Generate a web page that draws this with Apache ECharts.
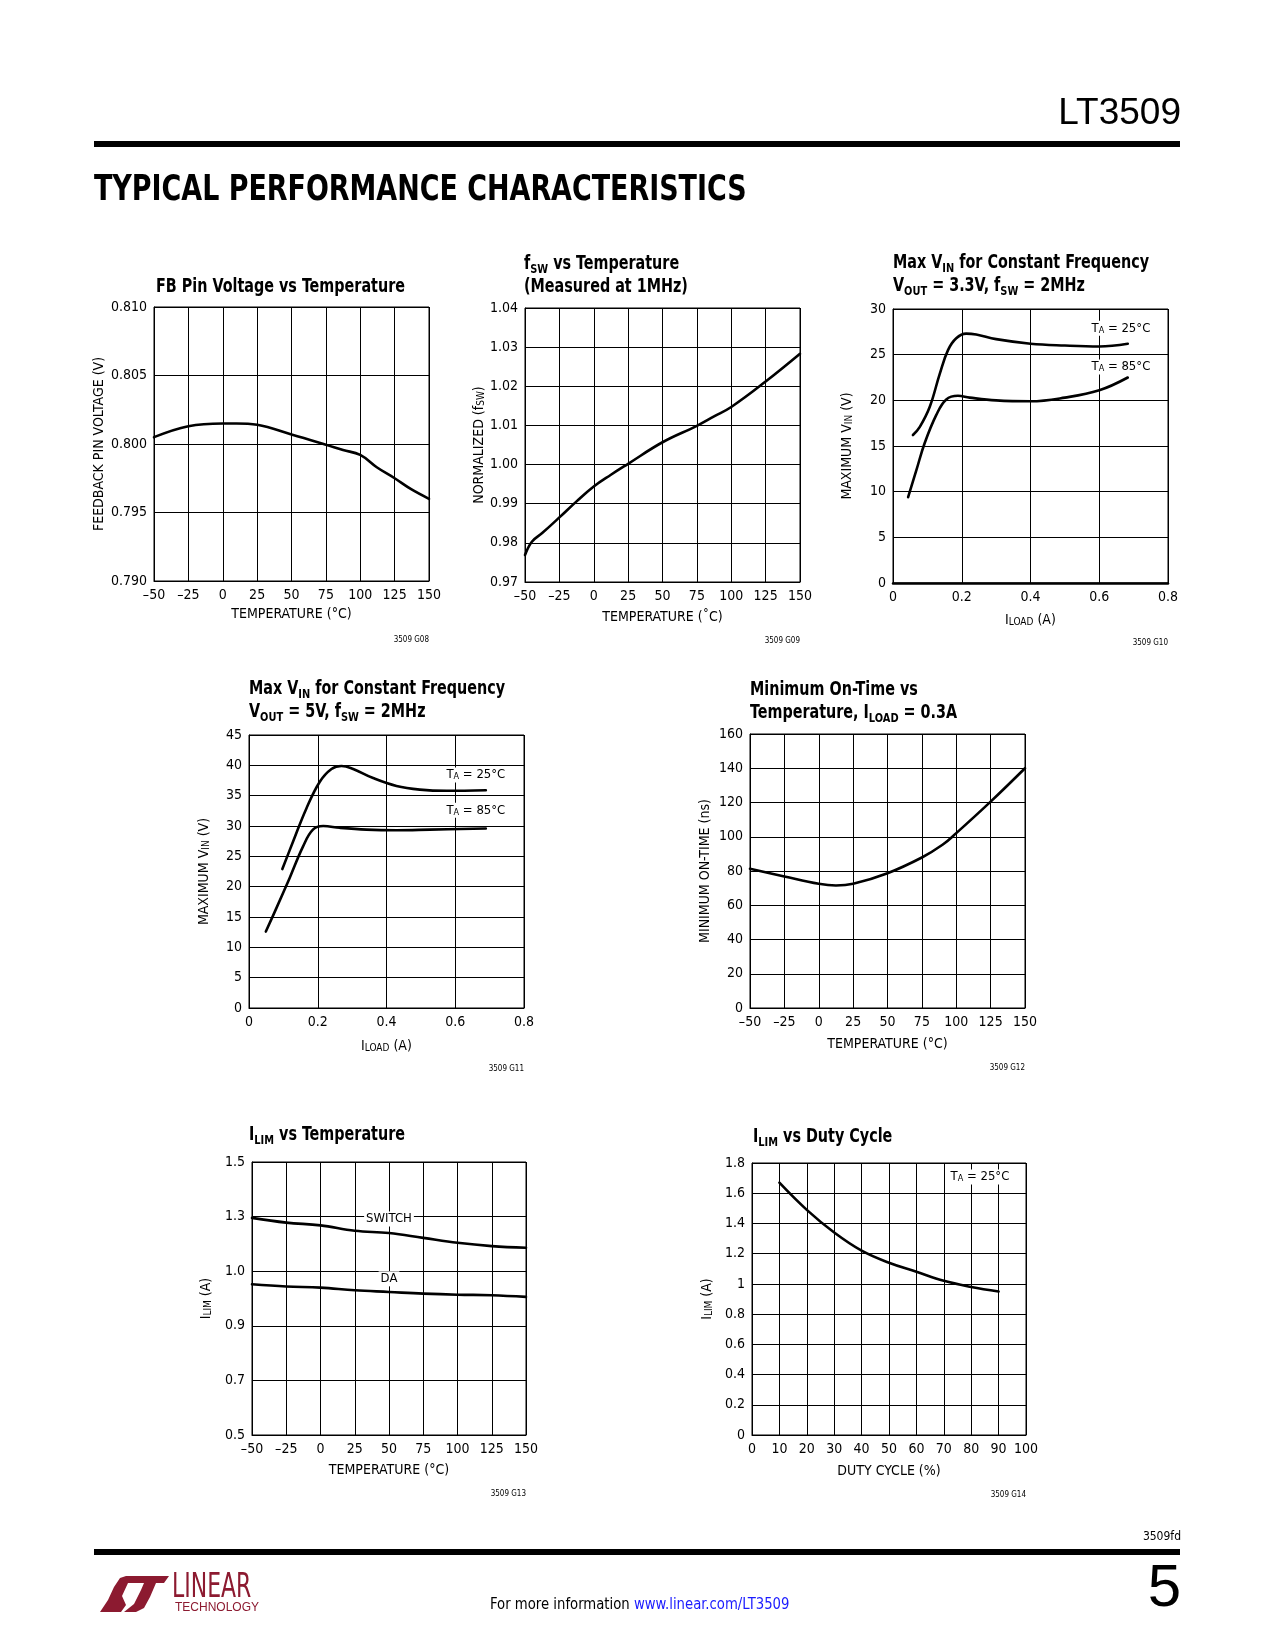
<!DOCTYPE html>
<html>
<head>
<meta charset="utf-8">
<script src="https://cdn.jsdelivr.net/npm/echarts@6/dist/echarts.min.js"></script>
<style>
html,body{margin:0;padding:0;background:#fff;}
#c{width:1275px;height:1650px;}
</style>
</head>
<body>
<div id="c"></div>
<script>
// ---------------- DATA ----------------
// G08 FB pin voltage vs temperature
const fbTemp = [-50, -25, 0, 10, 25, 50, 75, 87.5, 100, 112, 125, 137, 150];
const fbVolt = [0.8005, 0.8013, 0.8015, 0.8015, 0.8014, 0.8007, 0.79995, 0.79956, 0.7992, 0.7983, 0.7975, 0.7967, 0.7960];
// G09 fsw vs temperature
const fswTemp = [-50, -45, -37.5, -25, -12.5, 0, 12.5, 25, 50, 75, 87.5, 100, 125, 150];
const fswNorm = [0.9769, 0.9803, 0.9825, 0.9865, 0.9906, 0.9944, 0.9974, 1.0002, 1.0057, 1.0099, 1.0123, 1.0147, 1.0212, 1.0283];
// G10 Max VIN, VOUT = 3.3V
const v33Load25 = [0.058, 0.078, 0.107, 0.136, 0.16, 0.184, 0.213, 0.242, 0.3, 0.4, 0.5, 0.6, 0.683];
const v33Vin25  = [16.2, 17.1, 19.3, 22.9, 25.5, 26.8, 27.3, 27.2, 26.7, 26.2, 26.0, 25.9, 26.2];
const v33Load85 = [0.044, 0.068, 0.092, 0.126, 0.155, 0.189, 0.223, 0.3, 0.4, 0.5, 0.6, 0.683];
const v33Vin85  = [9.4, 12.35, 15.3, 18.4, 20.1, 20.5, 20.3, 20.0, 19.9, 20.3, 21.1, 22.5];
// G11 Max VIN, VOUT = 5V
const v5Load25 = [0.097, 0.128, 0.167, 0.206, 0.24, 0.269, 0.303, 0.361, 0.429, 0.497, 0.575, 0.689];
const v5Vin25  = [22.9, 27.4, 32.9, 37.3, 39.4, 39.9, 39.4, 37.9, 36.6, 36.0, 35.8, 35.9];
const v5Load85 = [0.049, 0.08, 0.118, 0.157, 0.186, 0.216, 0.264, 0.342, 0.429, 0.526, 0.689];
const v5Vin85  = [12.6, 16.5, 21.4, 26.6, 29.4, 30.0, 29.7, 29.4, 29.3, 29.4, 29.6];
// G12 minimum on-time vs temperature
const tonTemp = [-50, -25, 0, 12.5, 25, 50, 75, 90, 100, 125, 150];
const tonNs   = [81.3, 76.8, 72.5, 71.5, 72.5, 78.7, 87.9, 95.3, 102.1, 120.5, 140.0];
// G13 ILIM vs temperature (axis tick labels as printed, evenly spaced)
const ilimTicks = [0.5, 0.7, 0.9, 1.0, 1.3, 1.5];
const ilimTickLabels = ['0.5', '0.7', '0.9', '1.0', '1.3', '1.5'];
const ilimTemp   = [-50, -25, 0, 25, 50, 75, 100, 125, 150];
const ilimSwitch = [1.293, 1.267, 1.252, 1.222, 1.21, 1.183, 1.156, 1.138, 1.129];
const ilimDA     = [0.976, 0.972, 0.970, 0.965, 0.962, 0.959, 0.957, 0.956, 0.953];
// G14 ILIM vs duty cycle
const dutyPct  = [10, 20, 30, 40, 50, 60, 70, 80, 90];
const dutyIlim = [1.67, 1.49, 1.34, 1.22, 1.14, 1.08, 1.02, 0.98, 0.95];

// ---------------- STYLE ----------------
const FONT = '"Liberation Sans Narrow","DejaVu Sans Condensed","Arial Narrow",sans-serif';
const FONT_REG = '"Liberation Sans","DejaVu Sans",sans-serif';
const subRich = { sub: { fontSize: 10, fontFamily: FONT, color: '#000', verticalAlign: 'bottom', lineHeight: 10 } };
const minus = v => String(v).replace('-', '\u2013');

// map an ILIM value onto the evenly spaced printed ticks
function ilimPos(v) {
  for (let i = 0; i < ilimTicks.length - 1; i++) {
    if (v <= ilimTicks[i + 1]) return i + (v - ilimTicks[i]) / (ilimTicks[i + 1] - ilimTicks[i]);
  }
  return ilimTicks.length - 1;
}

const grids = [
  { left: 154, top: 307, width: 275, height: 274 },
  { left: 525, top: 308, width: 275, height: 274 },
  { left: 893, top: 309, width: 275, height: 274 },
  { left: 249, top: 735, width: 275, height: 273 },
  { left: 750, top: 734, width: 275, height: 274 },
  { left: 252, top: 1162, width: 274, height: 273 },
  { left: 752, top: 1163, width: 274, height: 272 }
].map(g => Object.assign({ show: true, borderColor: '#000', borderWidth: 1, containLabel: false }, g));

function axis(gi, min, max, interval, name, gap, fmt, extra) {
  return Object.assign({
    type: 'value', gridIndex: gi, min, max, interval,
    name, nameLocation: 'middle', nameGap: gap,
    nameTextStyle: { fontSize: 14, fontFamily: FONT, color: '#000', rich: subRich },
    axisLine: { show: true, onZero: false, lineStyle: { color: '#000', width: 1 } },
    axisTick: { show: false },
    splitLine: { show: true, lineStyle: { color: '#000', width: 1 } },
    axisLabel: { fontSize: 14, fontFamily: FONT, color: '#000', margin: 7, formatter: fmt || minus, showMinLabel: true, showMaxLabel: true }
  }, extra || {});
}

const tempName = 'TEMPERATURE (\u00B0C)';
const xAxes = [
  axis(0, -50, 150, 25, tempName, 26),
  axis(1, -50, 150, 25, 'TEMPERATURE (\u02DAC)', 28),
  axis(2, 0, 0.8, 0.2, 'I{sub|LOAD} (A)', 30, null, { axisLine: { show: true, onZero: false, lineStyle: { color: '#000', width: 2.5 } } }),
  axis(3, 0, 0.8, 0.2, 'I{sub|LOAD} (A)', 31),
  axis(4, -50, 150, 25, tempName, 29),
  axis(5, -50, 150, 25, tempName, 28),
  axis(6, 0, 100, 10, 'DUTY CYCLE (%)', 29)
];
const yAxes = [
  axis(0, 0.790, 0.810, 0.005, 'FEEDBACK PIN VOLTAGE (V)', 48, v => v.toFixed(3)),
  axis(1, 0.97, 1.04, 0.01, 'NORMALIZED (f{sub|SW})', 38, v => v.toFixed(2)),
  axis(2, 0, 30, 5, 'MAXIMUM V{sub|IN} (V)', 39),
  axis(3, 0, 45, 5, 'MAXIMUM V{sub|IN} (V)', 38),
  axis(4, 0, 160, 20, 'MINIMUM ON-TIME (ns)', 38),
  axis(5, 0, ilimTicks.length - 1, 1, 'I{sub|LIM} (A)', 39, i => ilimTickLabels[Math.round(i)]),
  axis(6, 0, 1.8, 0.2, 'I{sub|LIM} (A)', 38, v => String(Math.round(v * 10) / 10))
];

function note(x, y, text) {
  return {
    coord: [x, y],
    symbol: 'rect', symbolSize: 1,
    itemStyle: { color: 'rgba(0,0,0,0)' },
    label: {
      show: true, position: 'inside', formatter: text,
      color: '#000', fontSize: 13, fontFamily: FONT,
      backgroundColor: '#fff', padding: [1, 2],
      rich: { sub: { fontSize: 9, fontFamily: FONT, color: '#000', verticalAlign: 'bottom', lineHeight: 9 } }
    }
  };
}

function line(gi, xs, ys, notes, smooth) {
  const s = {
    type: 'line', xAxisIndex: gi, yAxisIndex: gi,
    data: xs.map((x, i) => [x, ys[i]]),
    smooth: smooth === undefined ? 0.4 : smooth,
    showSymbol: false, symbol: 'none',
    lineStyle: { color: '#000', width: 2.6, cap: 'round', join: 'round' },
    animation: false, silent: true
  };
  if (notes) s.markPoint = { symbol: 'rect', symbolSize: 1, animation: false, silent: true, data: notes };
  return s;
}

const series = [
  line(0, fbTemp, fbVolt),
  line(1, fswTemp, fswNorm),
  line(2, v33Load25, v33Vin25, [note(0.663, 27.9, 'T{sub|A} = 25\u00B0C'), note(0.663, 23.65, 'T{sub|A} = 85\u00B0C')]),
  line(2, v33Load85, v33Vin85),
  line(3, v5Load25, v5Vin25, [note(0.66, 38.4, 'T{sub|A} = 25\u00B0C'), note(0.66, 32.6, 'T{sub|A} = 85\u00B0C')]),
  line(3, v5Load85, v5Vin85),
  line(4, tonTemp, tonNs),
  line(5, ilimTemp, ilimSwitch.map(ilimPos), [note(50, ilimPos(1.287), 'SWITCH'), note(50, ilimPos(0.986), 'DA')]),
  line(5, ilimTemp, ilimDA.map(ilimPos)),
  line(6, dutyPct, dutyIlim, [note(83.2, 1.707, 'T{sub|A} = 25\u00B0C')])
];

// chart titles: condensed bold text (scaled horizontally to mimic a condensed face)
function ttl(text, left, top) {
  return {
    type: 'text', x: left, y: top, scaleX: 0.84, scaleY: 1,
    style: {
      text, fill: '#000', font: 'bold 19px ' + FONT, lineHeight: 23,
      textAlign: 'left', textVerticalAlign: 'top',
      rich: { sub: { fontSize: 13, fontWeight: 'bold', fontFamily: FONT, fill: '#000', verticalAlign: 'bottom', lineHeight: 13 } }
    }
  };
}
const titles = [
  ttl('FB Pin Voltage vs Temperature', 156, 276),
  ttl('f{sub|SW} vs Temperature\n(Measured at 1MHz)', 524, 253),
  ttl('Max V{sub|IN} for Constant Frequency\nV{sub|OUT} = 3.3V, f{sub|SW} = 2MHz', 893, 252),
  ttl('Max V{sub|IN} for Constant Frequency\nV{sub|OUT} = 5V, f{sub|SW} = 2MHz', 249, 678),
  ttl('Minimum On-Time vs\nTemperature, I{sub|LOAD} = 0.3A', 750, 679),
  ttl('I{sub|LIM} vs Temperature', 249, 1124),
  ttl('I{sub|LIM} vs Duty Cycle', 753, 1126)
];

function small(text, right, y) {
  return { type: 'text', x: right, y, style: { text, fill: '#000', font: '8px ' + FONT, textAlign: 'right', textVerticalAlign: 'middle' } };
}
const MAROON = '#8c1a30';
const graphics = titles.concat([
  { type: 'text', x: 1181, y: 114, style: { text: 'LT3509', fill: '#000', font: '37px ' + FONT_REG, textAlign: 'right', textVerticalAlign: 'middle' } },
  { type: 'rect', shape: { x: 94, y: 141, width: 1086, height: 6 }, style: { fill: '#000' } },
  { type: 'text', x: 94, y: 191, scaleX: 0.855, scaleY: 1, style: { text: 'TYPICAL PERFORMANCE CHARACTERISTICS', fill: '#000', font: 'bold 35px ' + FONT, textAlign: 'left', textVerticalAlign: 'middle' } },
  small('3509 G08', 429, 640),
  small('3509 G09', 800, 641),
  small('3509 G10', 1168, 643),
  small('3509 G11', 524, 1069),
  small('3509 G12', 1025, 1068),
  small('3509 G13', 526, 1494),
  small('3509 G14', 1026, 1495),
  { type: 'text', x: 1181, y: 1537, style: { text: '3509fd', fill: '#000', font: '12px ' + FONT, textAlign: 'right', textVerticalAlign: 'middle' } },
  { type: 'rect', shape: { x: 94, y: 1549, width: 1086, height: 6 }, style: { fill: '#000' } },
  { type: 'text', x: 1181, y: 1589, style: { text: '5', fill: '#000', font: '60px ' + FONT_REG, textAlign: 'right', textVerticalAlign: 'middle' } },
  { type: 'text', x: 490, y: 1605, scaleX: 0.92, scaleY: 1, style: {
      text: 'For more information {u|www.linear.com/LT3509}', fill: '#000', font: '16px ' + FONT,
      textAlign: 'left', textVerticalAlign: 'middle',
      rich: { u: { fill: '#1a1aff', fontSize: 16, fontFamily: FONT } } } },
  // Linear Technology logo
  { type: 'polygon', shape: { points: [[100,1612],[108,1600],[114,1587],[120,1578],[126,1576],[143,1576],[137,1583],[128,1583],[122,1596],[126,1605],[121,1612]] }, style: { fill: MAROON } },
  { type: 'polygon', shape: { points: [[139,1576],[169,1576],[164,1583],[156,1583],[150,1597],[144,1608],[136,1612],[124,1612],[134,1604],[141,1590],[144,1583],[135,1583]] }, style: { fill: MAROON } },
  { type: 'text', x: 172, y: 1588, scaleX: 0.74, scaleY: 1, style: { text: 'LINEAR', fill: MAROON, font: '33px ' + FONT, textAlign: 'left', textVerticalAlign: 'middle' } },
  { type: 'text', x: 175, y: 1608, style: { text: 'TECHNOLOGY', fill: MAROON, font: '12px ' + FONT_REG, textAlign: 'left', textVerticalAlign: 'middle' } }
]);

const chart = echarts.init(document.getElementById('c'), null, { renderer: 'canvas', width: 1275, height: 1650 });
chart.setOption({
  animation: false,
  backgroundColor: '#fff',
  grid: grids,
  xAxis: xAxes,
  yAxis: yAxes,
  series,
  graphic: graphics
});
</script>
</body>
</html>
